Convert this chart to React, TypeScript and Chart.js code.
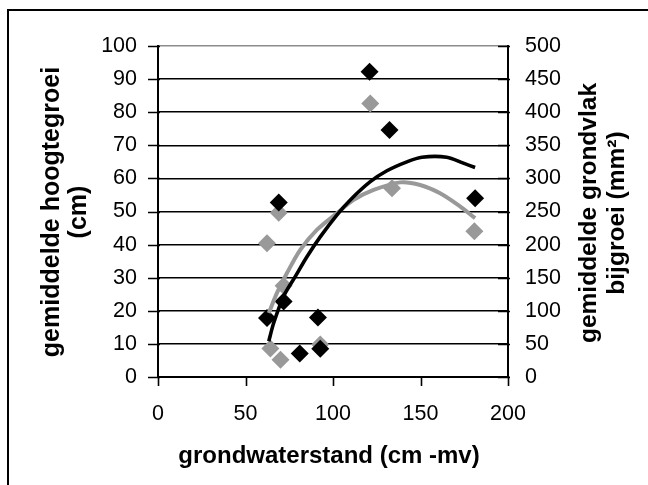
import { useEffect, useRef } from 'react';
import { Chart, registerables } from 'chart.js';

Chart.register(...registerables);

// grondwaterstand (cm -mv) of the measured plots
const xHoogte = [62.3, 69, 71.8, 81, 91.4, 92.7, 120.9, 132.3, 181.2];
// gemiddelde hoogtegroei (cm)
const hoogtegroei = [17.8, 52.7, 22.8, 7.1, 18, 8.5, 92.2, 74.6, 54];

const xGrondvlak = [62.3, 64.2, 69, 70, 71.8, 92.7, 121.3, 133.7, 180.8];
// gemiddelde grondvlak bijgroei (mm²)
const grondvlak = [202, 43, 248, 26, 138, 49, 413, 285, 220];

// trend line hoogtegroei
const trendHoogteX = [63.3, 66.1, 71.8, 78.5, 85.2, 92.8, 102.3, 109.9, 121.3, 130.8, 142.2, 150.8, 165, 174.5, 181.2];
const trendHoogteY = [10.8, 16.3, 24.4, 30.4, 36.4, 42.4, 49, 53.5, 59, 62.3, 65, 66.4, 66.4, 64.6, 63.3];

// trend line grondvlak
const trendGrondX = [63.3, 68, 73.7, 81.3, 90.9, 102.3, 111.8, 123.2, 138.4, 149.8, 161.2, 172.7, 181.2];
const trendGrondY = [96.5, 127, 157, 192, 222.5, 247.5, 267.5, 282.5, 294, 290, 277.5, 257.5, 240];

const xTickValues = [0, 50, 100, 150, 200];
const leftTickValues = [0, 10, 20, 30, 40, 50, 60, 70, 80, 90, 100];
const rightTickValues = [0, 50, 100, 150, 200, 250, 300, 350, 400, 450, 500];

const xTitle = 'grondwaterstand (cm -mv)';
const leftTitle = ['gemiddelde hoogtegroei', '(cm)'];
const rightTitle = ['gemiddelde grondvlak', 'bijgroei (mm²)'];

const pts = (xs: number[], ys: number[]) => xs.map((x, i) => ({ x, y: ys[i] }));

const decor = {
  id: 'decor',
  beforeDraw(chart: any) {
    const ctx = chart.ctx;
    ctx.save();
    ctx.fillStyle = '#fff';
    ctx.fillRect(0, 0, chart.width, chart.height);
    ctx.fillStyle = '#000';
    ctx.fillRect(7, 9, chart.width - 7, 2);
    ctx.fillRect(7, 9, 2, chart.height - 9);
    ctx.restore();
  },
  afterDraw(chart: any) {
    const ctx = chart.ctx;
    const { x, y, y2 } = chart.scales;
    const area = chart.chartArea;
    ctx.save();
    ctx.strokeStyle = '#000';
    ctx.lineWidth = 1.6;
    ctx.beginPath();
    leftTickValues.forEach((v) => {
      const py = Math.round(y.getPixelForValue(v)) + 0.5;
      ctx.moveTo(area.left - 10, py);
      ctx.lineTo(area.left + 2, py);
    });
    rightTickValues.forEach((v) => {
      const py = Math.round(y2.getPixelForValue(v)) + 0.5;
      ctx.moveTo(area.right - 10, py);
      ctx.lineTo(area.right + 2, py);
    });
    xTickValues.forEach((v) => {
      const px = Math.round(x.getPixelForValue(v)) + 0.5;
      ctx.moveTo(px, area.bottom - 1);
      ctx.lineTo(px, area.bottom + 9);
    });
    ctx.stroke();

    ctx.fillStyle = '#000';
    ctx.font = 'bold 24px "Liberation Sans", Arial, sans-serif';
    ctx.textAlign = 'center';
    ctx.textBaseline = 'middle';
    ctx.fillText(xTitle, 329, 456);

    const drawVertical = (lines: string[], xs: number[], cy: number, size: number) => {
      ctx.font = `bold ${size}px "Liberation Sans", Arial, sans-serif`;
      lines.forEach((t, i) => {
        ctx.save();
        ctx.translate(xs[i], cy);
        ctx.rotate(-Math.PI / 2);
        ctx.fillText(t, 0, 0);
        ctx.restore();
      });
    };
    drawVertical(leftTitle, [52, 79], 212, 25);
    drawVertical(rightTitle, [589, 617], 213, 24.5);
    ctx.restore();
  },
};

export default function App() {
  const ref = useRef<HTMLCanvasElement | null>(null);

  useEffect(() => {
    if (!ref.current) return;
    Chart.defaults.font.family = '"Liberation Sans", Arial, sans-serif';
    const chart = new Chart(ref.current, {
      type: 'scatter',
      data: {
        datasets: [
          {
            label: 'trend hoogtegroei',
            data: pts(trendHoogteX, trendHoogteY),
            showLine: true,
            borderColor: '#000',
            borderWidth: 3.6,
            pointRadius: 0,
            tension: 0.3,
            yAxisID: 'y',
          },
          {
            label: 'trend grondvlak',
            data: pts(trendGrondX, trendGrondY),
            showLine: true,
            borderColor: '#999999',
            borderWidth: 4,
            pointRadius: 0,
            tension: 0.3,
            yAxisID: 'y2',
          },
          {
            label: 'hoogtegroei',
            data: pts(xHoogte, hoogtegroei),
            pointStyle: 'rectRot',
            pointRadius: 9,
            backgroundColor: '#000',
            borderColor: '#000',
            borderWidth: 0,
            yAxisID: 'y',
          },
          {
            label: 'grondvlak',
            data: pts(xGrondvlak, grondvlak),
            pointStyle: 'rectRot',
            pointRadius: 9,
            backgroundColor: '#999999',
            borderColor: '#999999',
            borderWidth: 0,
            yAxisID: 'y2',
          },
        ],
      },
      options: {
        animation: false,
        responsive: false,
        events: [],
        layout: { padding: { top: 46, left: 0, right: 0, bottom: 0 } },
        plugins: { legend: { display: false }, tooltip: { enabled: false } },
        scales: {
          x: {
            type: 'linear',
            min: 0,
            max: 200,
            afterFit: (s: any) => { s.height = 108; },
            afterBuildTicks: (s: any) => { s.ticks = xTickValues.map((v) => ({ value: v })); },
            grid: { drawOnChartArea: false, drawTicks: false },
            border: { display: true, color: '#000', width: 2 },
            ticks: { color: '#000', font: { size: 21.5 }, padding: 24, maxRotation: 0 },
          },
          y: {
            type: 'linear',
            position: 'left',
            min: 0,
            max: 100,
            afterFit: (s: any) => { s.width = 158; },
            afterBuildTicks: (s: any) => { s.ticks = leftTickValues.map((v) => ({ value: v })); },
            grid: {
              drawTicks: false,
              color: (c: any) => (c.tick && c.tick.value === 100 ? '#8c8c8c' : '#000'),
              lineWidth: 1.6,
            },
            border: { display: true, color: '#000', width: 2 },
            ticks: { color: '#000', font: { size: 21.5 }, padding: 21 },
          },
          y2: {
            type: 'linear',
            position: 'right',
            min: 0,
            max: 500,
            afterFit: (s: any) => { s.width = 140; },
            afterBuildTicks: (s: any) => { s.ticks = rightTickValues.map((v) => ({ value: v })); },
            grid: { drawOnChartArea: false, drawTicks: false },
            border: { display: true, color: '#000', width: 2 },
            ticks: { color: '#000', font: { size: 21.5 }, padding: 17 },
          },
        },
      },
      plugins: [decor],
    } as any);
    return () => chart.destroy();
  }, []);

  return (
    <div style={{ position: 'fixed', left: 0, top: 0, width: 648, height: 485, overflow: 'hidden', background: '#fff' }}>
      <canvas ref={ref} width={648} height={485} style={{ width: 648, height: 485, display: 'block' }} />
    </div>
  );
}
